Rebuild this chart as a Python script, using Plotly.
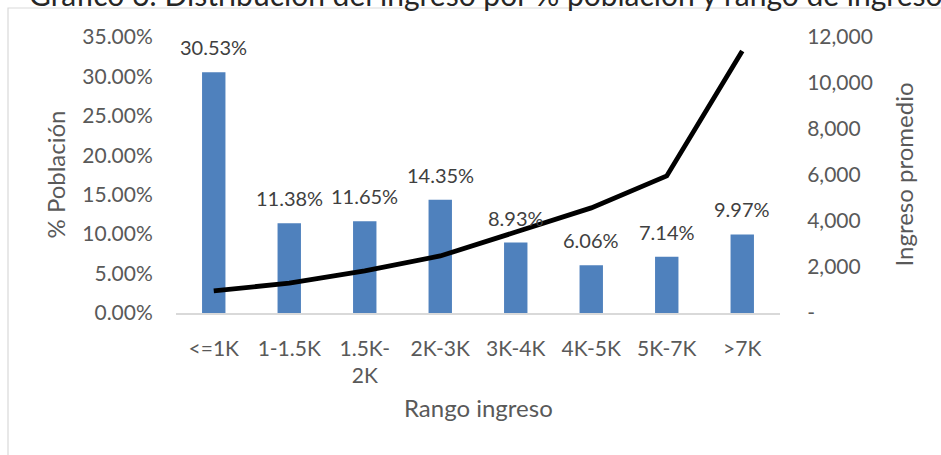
import plotly.graph_objects as go

categories = ["<=1K", "1-1.5K", "1.5K-2K", "2K-3K", "3K-4K", "4K-5K", "5K-7K", ">7K"]
tick_labels = ["<=1K", "1-1.5K", "1.5K-<br>2K", "2K-3K", "3K-4K", "4K-5K", "5K-7K", ">7K"]
pct_poblacion = [0.3053, 0.1138, 0.1165, 0.1435, 0.0893, 0.0606, 0.0714, 0.0997]
ingreso_promedio = [960, 1300, 1830, 2480, 3520, 4570, 5960, 11390]
y2_ticks = [0, 2000, 4000, 6000, 8000, 10000, 12000]
y2_ticktext = ["-", "2,000", "4,000", "6,000", "8,000", "10,000", "12,000"]

FONT = "Lato"
GRAY = "#595959"

fig = go.Figure()
fig.add_trace(go.Bar(x=categories, y=pct_poblacion, marker=dict(color="#4F81BD", line=dict(width=0)),
                     width=0.31, yaxis="y"))
fig.add_trace(go.Scatter(x=categories, y=ingreso_promedio, mode="lines",
                         line=dict(color="black", width=4.8), yaxis="y2"))

for c, v in zip(categories, pct_poblacion):
    fig.add_annotation(x=c, y=v, xref="x", yref="y", text=f"{v*100:.2f}%", showarrow=False,
                       yanchor="middle", yshift=25, font=dict(family=FONT, size=20, color="#404040"))

# axis titles
fig.add_annotation(x=0, y=0.5, xref="paper", yref="paper", xshift=-138, text="% Población", textangle=-90,
                   showarrow=False, font=dict(family=FONT, size=24, color=GRAY))
fig.add_annotation(x=1, y=0.5, xref="paper", yref="paper", xshift=139, text="Ingreso promedio", textangle=-90,
                   showarrow=False, font=dict(family=FONT, size=24, color=GRAY))
fig.add_annotation(x=0.5, y=0, xref="paper", yref="paper", yshift=-111, text="Rango ingreso",
                   showarrow=False, font=dict(family=FONT, size=24, color=GRAY))
# clipped title
fig.add_annotation(x=0.5, y=1, xref="paper", yref="paper", xshift=8, yshift=43, yanchor="middle",
                   text="Gráfico 6: Distribución del ingreso por % población y rango de ingreso",
                   showarrow=False, font=dict(family=FONT, size=30, color="#262626"))

# chart border
fig.add_shape(type="rect", xref="paper", yref="paper",
              x0=(8 - 176) / 604, x1=1.5, y0=-1, y1=1 + (37 - 8) / 276,
              line=dict(color="#D9D9D9", width=1.2), layer="below")

fig.update_layout(
    width=941, height=455,
    margin=dict(l=176, r=161, t=37, b=142),
    paper_bgcolor="white", plot_bgcolor="white",
    showlegend=False,
    xaxis=dict(tickvals=categories, ticktext=tick_labels, showgrid=False, showline=True, linecolor="#D9D9D9",
               linewidth=1.5, ticks="outside", ticklen=16, tickcolor="rgba(0,0,0,0)",
               tickfont=dict(family=FONT, size=21, color=GRAY), zeroline=False, tickangle=0),
    yaxis=dict(range=[0, 0.35], dtick=0.05, tickformat=".2%", showgrid=False, zeroline=False, showline=False,
               ticks="outside", ticklen=18, tickcolor="rgba(0,0,0,0)",
               tickfont=dict(family=FONT, size=21, color=GRAY)),
    yaxis2=dict(range=[0, 12000], overlaying="y", side="right", tickvals=y2_ticks, ticktext=y2_ticktext,
                showgrid=False, zeroline=False, showline=False, ticks="outside", ticklen=22,
                tickcolor="rgba(0,0,0,0)", tickfont=dict(family=FONT, size=21, color=GRAY)),
)

fig.write_html("out.html")
